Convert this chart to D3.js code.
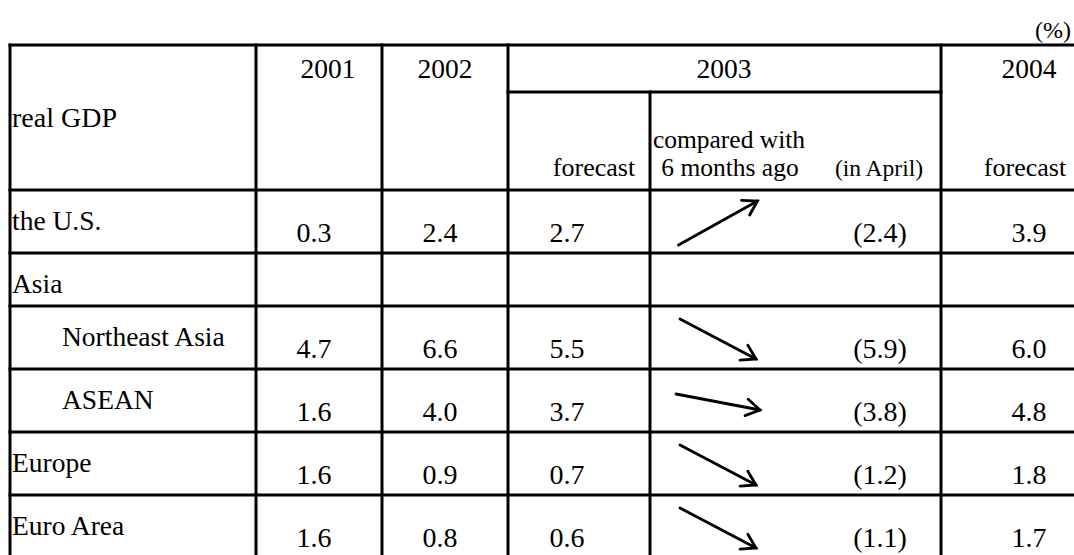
<!DOCTYPE html>
<html>
<head>
<meta charset="utf-8">
<script src="https://cdn.jsdelivr.net/npm/d3@7"></script>
<style>
  html, body { margin: 0; padding: 0; background: #fff; }
  svg { display: block; }
  text { font-family: "Liberation Serif", "Times New Roman", Times, serif; fill: #000; }
</style>
</head>
<body>
<svg id="chart" width="1074" height="555"></svg>
<script>
// ---------- data ----------
const unitLabel = "(%)";
const cornerLabel = "real GDP";
const yearLabels = ["2001", "2002", "2003", "2004"];
const subLabels = ["forecast", "compared with", "6 months ago", "(in April)", "forecast"];
const regions = ["the U.S.", "Asia", "Northeast Asia", "ASEAN", "Europe", "Euro Area"];
const indented = [false, false, true, true, false, false];
const v2001 = [0.3, null, 4.7, 1.6, 1.6, 1.6];
const v2002 = [2.4, null, 6.6, 4.0, 0.9, 0.8];
const v2003 = [2.7, null, 5.5, 3.7, 0.7, 0.6];
const trend = ["up", null, "down", "slightly down", "down", "down"];
const vApril = [2.4, null, 5.9, 3.8, 1.2, 1.1];
const v2004 = [3.9, null, 6.0, 4.8, 1.8, 1.7];

// ---------- layout ----------
const svg = d3.select("#chart");
const colEdges = [10, 256, 382, 508, 650, 941, 1080];
const topY = 45, subY = 92, headBottom = 190;
const rowHeights = [63, 53, 63, 63, 63, 63];
const rowTops = [];
rowHeights.reduce((acc, h) => { rowTops.push(acc); return acc + h; }, headBottom);
const tableBottom = headBottom + d3.sum(rowHeights);

const rowY = d3.scaleOrdinal().domain(d3.range(regions.length)).range(rowTops);
const fmt = d3.format(".1f");
const LW = 3;
const FS = 27.5;

const g = svg.append("g");

// ---------- grid lines ----------
const lines = g.append("g").attr("stroke", "#000").attr("stroke-width", LW).attr("stroke-linecap", "square");
[topY, headBottom, ...rowTops.slice(1), tableBottom].forEach(y => {
  lines.append("line").attr("x1", colEdges[0]).attr("x2", colEdges[6]).attr("y1", y).attr("y2", y);
});
lines.append("line").attr("x1", colEdges[3]).attr("x2", colEdges[5]).attr("y1", subY).attr("y2", subY);
[0, 1, 2, 3, 5, 6].forEach(i => {
  lines.append("line").attr("x1", colEdges[i]).attr("x2", colEdges[i]).attr("y1", topY).attr("y2", tableBottom);
});
lines.append("line").attr("x1", colEdges[4]).attr("x2", colEdges[4]).attr("y1", subY).attr("y2", tableBottom);

// ---------- header text ----------
const T = g.append("g");
T.append("text").attr("x", 1071).attr("y", 38).attr("text-anchor", "end").attr("font-size", 24).text(unitLabel);
T.append("text").attr("x", 12).attr("y", 127).attr("font-size", 28).text(cornerLabel);
const yearX = [328, 445, 724, 1029];
yearLabels.forEach((t, i) => {
  T.append("text").attr("x", yearX[i]).attr("y", 78).attr("text-anchor", "middle").attr("font-size", FS).text(t);
});
T.append("text").attr("x", 594).attr("y", 176).attr("text-anchor", "middle").attr("font-size", 26).text(subLabels[0]);
T.append("text").attr("x", 729).attr("y", 148).attr("text-anchor", "middle").attr("font-size", 25.5).text(subLabels[1]);
T.append("text").attr("x", 730).attr("y", 176).attr("text-anchor", "middle").attr("font-size", 25.5).text(subLabels[2]);
T.append("text").attr("x", 879).attr("y", 176).attr("text-anchor", "middle").attr("font-size", 23.5).text(subLabels[3]);
T.append("text").attr("x", 1025).attr("y", 176).attr("text-anchor", "middle").attr("font-size", 26).text(subLabels[4]);

// ---------- body ----------
const rows = g.selectAll("g.row").data(regions).join("g").attr("class", "row")
  .attr("transform", (d, i) => `translate(0,${rowY(i)})`);

rows.append("text")
  .attr("x", (d, i) => indented[i] ? 62 : 12)
  .attr("y", 40)
  .attr("font-size", FS)
  .text(d => d);

const valueCols = [
  { vals: v2001, x: 314, paren: false },
  { vals: v2002, x: 440, paren: false },
  { vals: v2003, x: 567, paren: false },
  { vals: vApril, x: 880, paren: true },
  { vals: v2004, x: 1029, paren: false }
];
valueCols.forEach(col => {
  rows.filter((d, i) => col.vals[i] != null)
    .append("text")
    .attr("x", col.x)
    .each(function(d) {
      const i = regions.indexOf(d);
      d3.select(this)
        .attr("y", rowHeights[i] - 11)
        .text(col.paren ? `(${fmt(col.vals[i])})` : fmt(col.vals[i]));
    })
    .attr("text-anchor", "middle")
    .attr("font-size", 28);
});

// ---------- trend arrows ----------
const arrowDY = { "up": -44, "down": 40, "slightly down": 16 };
const arrowDX = { "up": 79, "down": 76, "slightly down": 84 };
const arrows = g.append("g").attr("stroke", "#000").attr("stroke-width", 2.8).attr("fill", "none")
  .attr("stroke-linecap", "round");
regions.forEach((r, i) => {
  const t = trend[i];
  if (!t) return;
  const cy = rowY(i) + 33, cx = 718;
  const dx = arrowDX[t], dy = arrowDY[t];
  const x1 = cx - dx / 2, y1 = cy - dy / 2, x2 = cx + dx / 2, y2 = cy + dy / 2;
  arrows.append("line").attr("x1", x1).attr("y1", y1).attr("x2", x2).attr("y2", y2);
  const ang = Math.atan2(dy, dx), L = 16, spread = 0.55;
  const head = d3.path();
  head.moveTo(x2 - L * Math.cos(ang - spread), y2 - L * Math.sin(ang - spread));
  head.lineTo(x2, y2);
  head.lineTo(x2 - L * Math.cos(ang + spread), y2 - L * Math.sin(ang + spread));
  arrows.append("path").attr("d", head.toString()).attr("stroke-linejoin", "miter");
});
</script>
</body>
</html>
